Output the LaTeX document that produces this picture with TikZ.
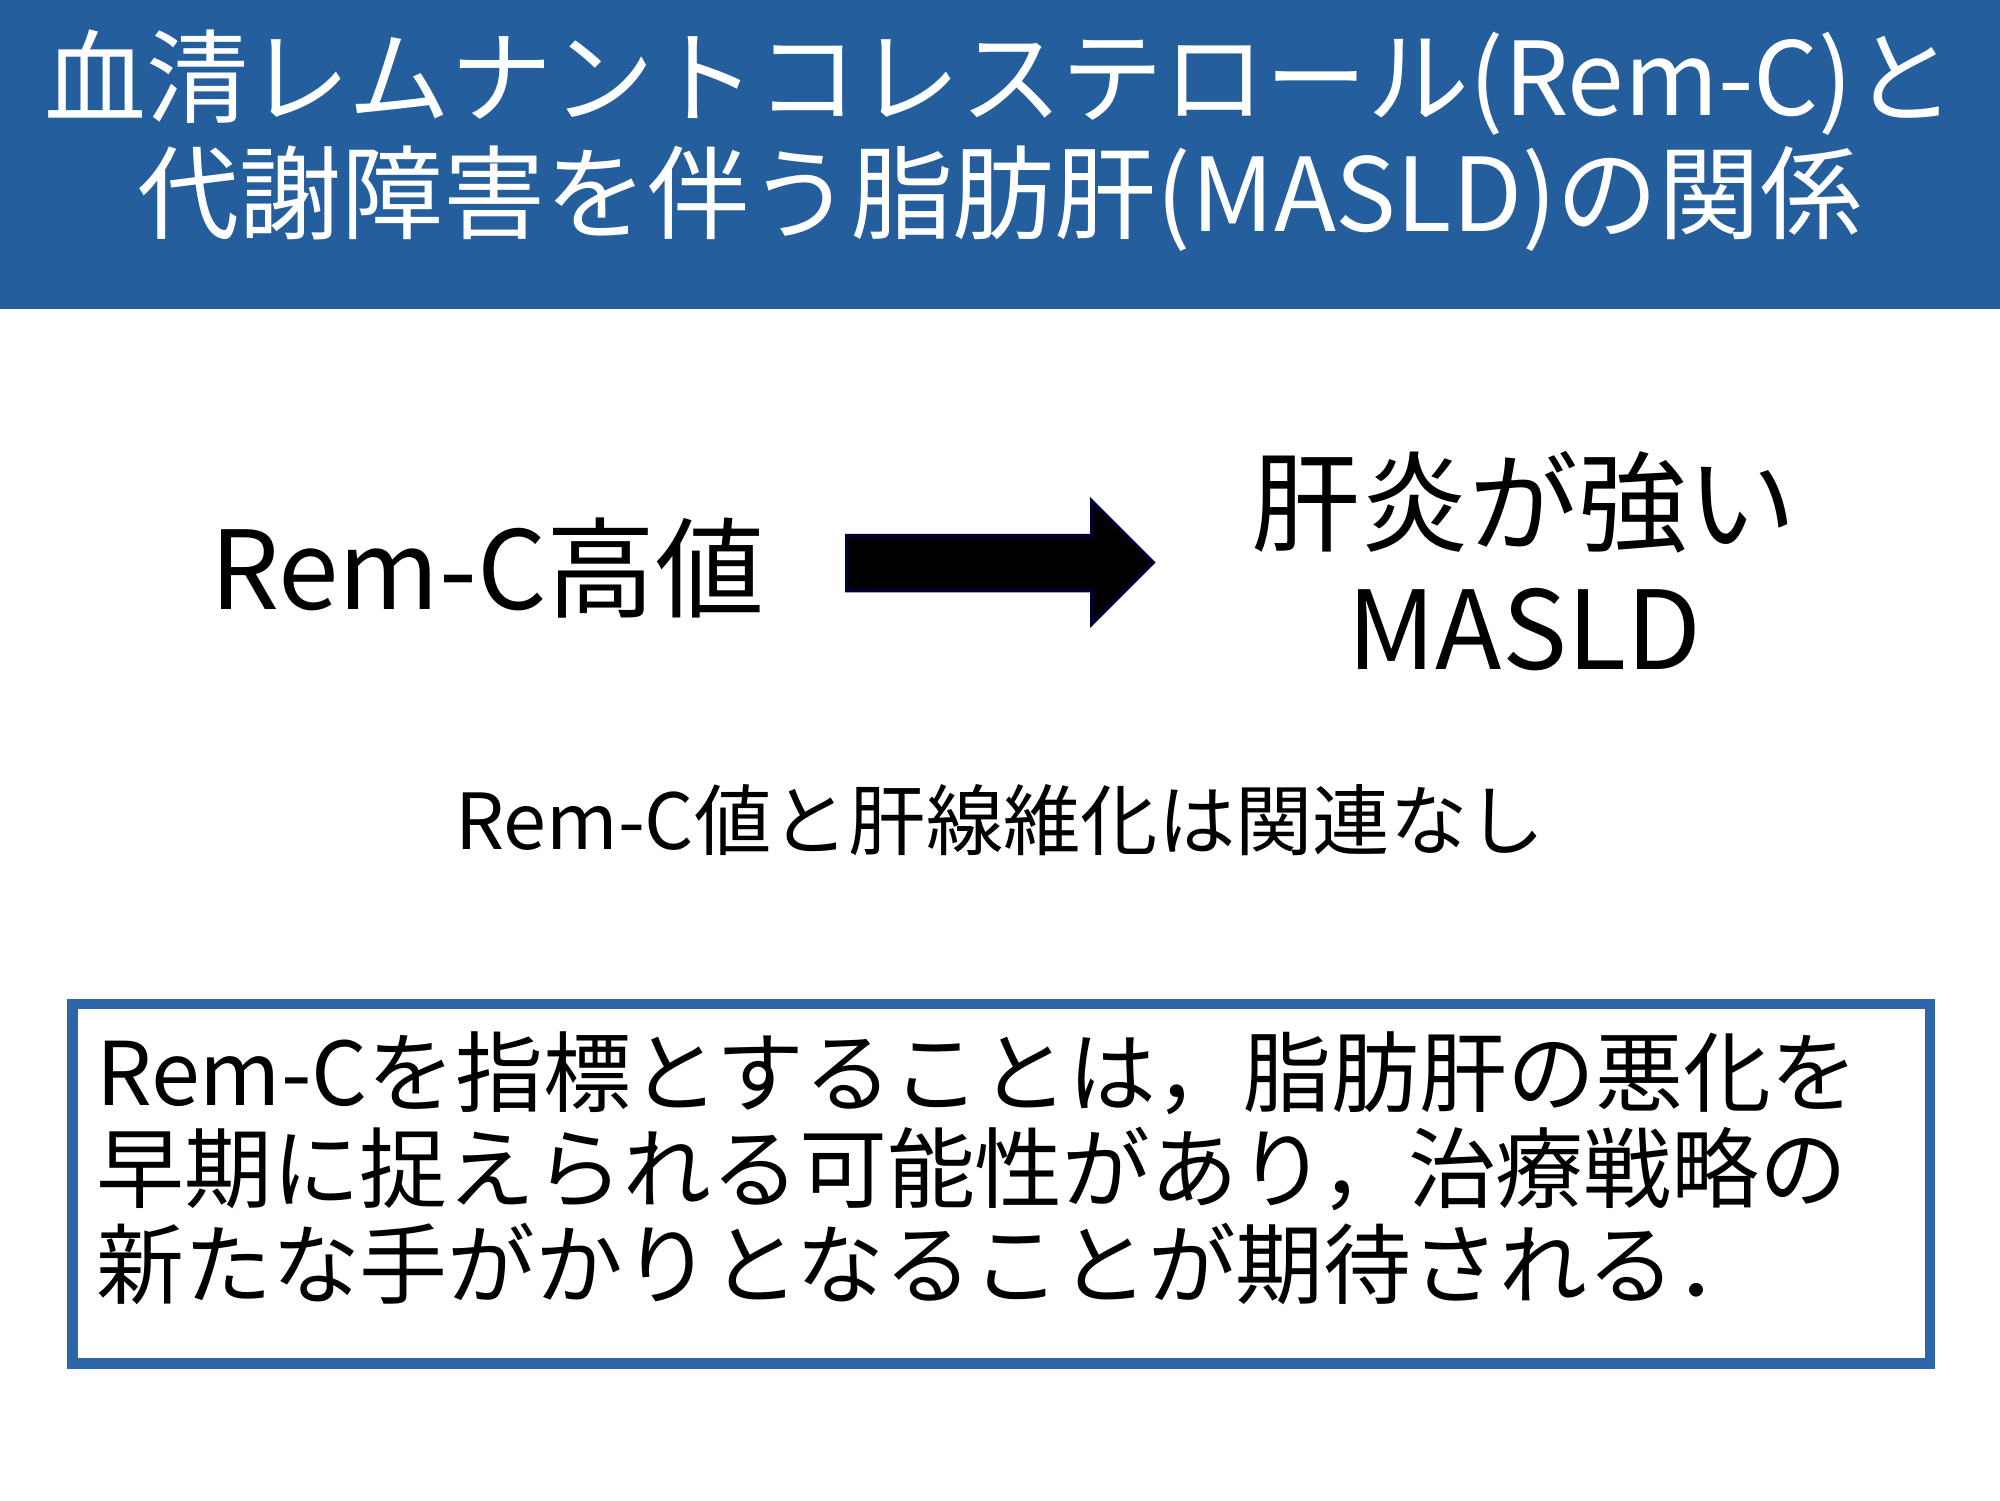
\documentclass[tikz,border=0pt]{standalone}
\usepackage{fontspec}
\setmainfont{Noto Sans CJK JP}
\definecolor{hdr}{HTML}{245E9C}
\definecolor{bx}{HTML}{2E64A8}
\tikzset{txt/.style={inner sep=0pt,align=center}}
\begin{document}
\begin{tikzpicture}[x=0.012755cm,y=-0.012755cm]
\useasboundingbox (0,0) rectangle (1568,1176);
\fill[white] (0,0) rectangle (1568,1176);
\fill[hdr] (0,0) rectangle (1568,242);
\node[txt,text=white,font=\fontsize{29}{33}\selectfont] (title) at (784,110) {血清レムナントコレステロール(Rem-C)と\\代謝障害を伴う脂肪肝(MASLD)の関係};
\node[txt,font=\fontsize{31}{35}\selectfont] (left) at (382,445) {Rem-C高値};
\node[txt,font=\fontsize{31}{36}\selectfont] (right) at (1195,440) {肝炎が強い\\MASLD};
\draw[fill=black,draw=black!80!blue,line width=1pt] (664,420) -- (856,420) -- (856,393) -- (904,441) -- (856,489) -- (856,463) -- (664,463) -- cycle;
\node[txt,font=\fontsize{22}{26}\selectfont] (note) at (784,643) {Rem-C値と肝線維化は関連なし};
\draw[bx,line width=3pt] (57,787) rectangle (1513,1069);
\node[txt,align=left,anchor=north west,font=\fontsize{25}{27.3}\selectfont] (box) at (75,808) {Rem-Cを指標とすることは，脂肪肝の悪化を\\早期に捉えられる可能性があり，治療戦略の\\新たな手がかりとなることが期待される．};
\end{tikzpicture}
\end{document}
